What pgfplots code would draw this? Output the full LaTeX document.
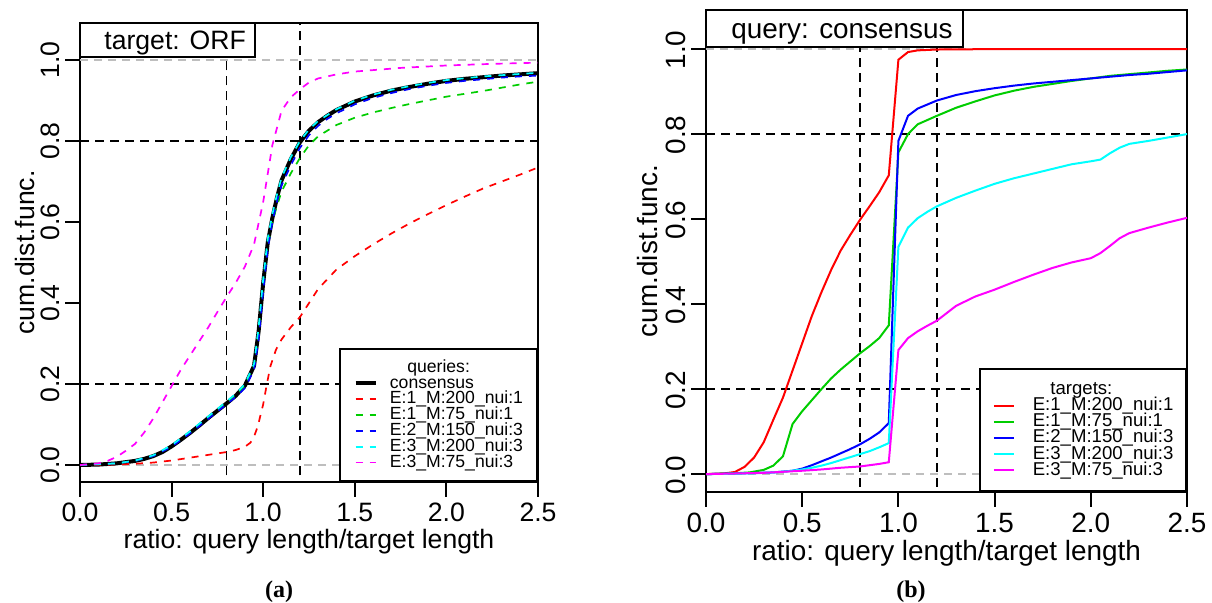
\documentclass[border=0pt]{standalone}
\usepackage{fontspec}
\setmainfont{Liberation Sans}
\newfontfamily\capfont{Liberation Serif}
\usepackage{pgfplots}
\pgfplotsset{compat=1.18}
\definecolor{rred}{RGB}{255,0,0}
\definecolor{rgreen}{RGB}{0,205,0}
\definecolor{rblue}{RGB}{0,0,255}
\definecolor{rcyan}{RGB}{0,255,255}
\definecolor{rmagenta}{RGB}{255,0,255}
\definecolor{rgrey}{RGB}{190,190,190}
\pgfplotsset{
  cdfaxis/.style={
    scale only axis, anchor=south west,
    xmin=0, xmax=2.5, ymin=-0.042, ymax=1.092,
    xtick={0,0.5,1,1.5,2,2.5}, ytick={0,0.2,0.4,0.6,0.8,1},
    tick align=outside, xtick pos=bottom, ytick pos=left,
    major tick length=7.5pt, line width=1pt,
    every tick/.style={black, line width=1pt},
    /pgf/number format/.cd, fixed, fixed zerofill, precision=1, assume math mode=true,
    /pgfplots/.cd,
    xticklabel style={anchor=center, yshift=-7.5pt},
    yticklabel style={xshift=-7.5pt, rotate=90, anchor=center},
    xlabel={ratio: query length/target length},
    ylabel={cum.dist.func.},
    legend cell align=left,
    legend image code/.code={\draw[##1] (0pt,0pt) -- (10pt,0pt);},
  },
  refline/.style={black, line width=0.9pt, dash pattern=on 4.5pt off 3pt, forget plot},
  greyline/.style={rgrey, line width=0.8pt, dash pattern=on 4pt off 3pt, forget plot},
  dcurve/.style={line width=0.85pt, dash pattern=on 3.5pt off 3.5pt},
  scurve/.style={line width=1pt},
}
\begin{document}
\begin{tikzpicture}
\useasboundingbox (0,0) rectangle (606pt,301.5pt);
% ---------------- panel (a) ----------------
\begin{axis}[cdfaxis, name=A, at={(40pt,60.5pt)}, width=229pt, height=229.5pt,
  tick label style={font=\fontsize{13.3}{16}\selectfont},
  label style={font=\fontsize{13.3}{16}\selectfont},
  xlabel style={at={(axis description cs:0.5,0)}, anchor=base, yshift=-33.5pt},
  ylabel style={at={(axis description cs:-0.12,0.5)}, anchor=center},
  legend style={at={(1,0)}, anchor=south east, draw=black, line width=1pt, fill=white,
    inner xsep=7pt, inner ysep=5.3pt, row sep=0pt, column sep=6.2pt,
    font=\fontsize{8.8}{9}\selectfont,
    nodes={inner sep=0pt, text height=6.3pt, text depth=1.6pt}},
]
\addplot[greyline] coordinates {(0,0) (2.5,0)};
\addplot[greyline] coordinates {(0,1) (2.5,1)};
\addplot[refline] coordinates {(0,0.2) (2.5,0.2)};
\addplot[refline] coordinates {(0,0.8) (2.5,0.8)};
\addplot[refline] coordinates {(0.8,-0.1) (0.8,1.2)};
\addplot[refline] coordinates {(1.2,-0.1) (1.2,1.2)};
\addlegendimage{empty legend}
\addlegendentry{\hspace{8.7pt}queries:}
\addplot[black, line width=2pt] coordinates {
(0,0) (0.1,0.001) (0.2,0.004) (0.3,0.010) (0.35,0.015) (0.4,0.022) (0.45,0.032)
(0.5,0.046) (0.55,0.062) (0.6,0.079) (0.65,0.097) (0.7,0.116) (0.75,0.134)
(0.8,0.152) (0.85,0.171) (0.9,0.196) (0.95,0.245) (0.975,0.33) (1.0,0.45)
(1.025,0.55) (1.05,0.61) (1.075,0.66) (1.1,0.703) (1.15,0.755) (1.2,0.797)
(1.25,0.826) (1.3,0.847) (1.35,0.863) (1.4,0.877) (1.5,0.898) (1.6,0.913)
(1.7,0.925) (1.8,0.934) (1.9,0.942) (2.0,0.949) (2.1,0.954) (2.2,0.958)
(2.3,0.962) (2.4,0.965) (2.5,0.968)};
\addlegendentry{consensus}
\addplot[rred, dcurve] coordinates {
(0,0) (0.2,0.001) (0.3,0.003) (0.4,0.006) (0.5,0.011) (0.6,0.018) (0.7,0.025)
(0.8,0.032) (0.85,0.037) (0.9,0.045) (0.93,0.055) (0.95,0.07) (0.97,0.095)
(1.0,0.15) (1.02,0.2) (1.04,0.245) (1.07,0.285) (1.1,0.31) (1.15,0.34)
(1.2,0.365) (1.3,0.435) (1.4,0.483) (1.5,0.516) (1.6,0.545) (1.7,0.572)
(1.8,0.597) (1.9,0.62) (2.0,0.642) (2.1,0.663) (2.2,0.683) (2.3,0.70)
(2.4,0.717) (2.5,0.735)};
\addlegendentry{E:1\_M:200\_nui:1}
\addplot[rgreen, dcurve] coordinates {
(0,0) (0.2,0.004) (0.3,0.010) (0.4,0.022) (0.5,0.046) (0.6,0.079) (0.7,0.116)
(0.8,0.152) (0.85,0.171) (0.9,0.196) (0.95,0.243) (0.975,0.325) (1.0,0.44)
(1.025,0.54) (1.05,0.6) (1.075,0.64) (1.1,0.675) (1.15,0.72) (1.2,0.758)
(1.25,0.79) (1.3,0.812) (1.4,0.84) (1.5,0.858) (1.6,0.871) (1.7,0.882)
(1.8,0.892) (1.9,0.901) (2.0,0.91) (2.1,0.917) (2.2,0.924) (2.3,0.932)
(2.4,0.94) (2.5,0.947)};
\addlegendentry{E:1\_M:75\_nui:1}
\addplot[rblue, dcurve] coordinates {
(0,0) (0.2,0.004) (0.3,0.01) (0.4,0.022) (0.5,0.045) (0.6,0.078) (0.7,0.114)
(0.8,0.15) (0.85,0.168) (0.9,0.19) (0.95,0.235) (0.975,0.31) (1.0,0.43)
(1.025,0.535) (1.05,0.6) (1.075,0.65) (1.1,0.69) (1.15,0.74) (1.2,0.783)
(1.25,0.815) (1.3,0.838) (1.35,0.855) (1.4,0.869) (1.5,0.891) (1.6,0.907)
(1.7,0.919) (1.8,0.929) (1.9,0.937) (2.0,0.944) (2.1,0.949) (2.2,0.953)
(2.3,0.957) (2.4,0.96) (2.5,0.962)};
\addlegendentry{E:2\_M:150\_nui:3}
\addplot[rcyan, dcurve] coordinates {
(0,0) (0.2,0.004) (0.3,0.011) (0.4,0.024) (0.5,0.049) (0.6,0.083) (0.7,0.12)
(0.8,0.157) (0.85,0.176) (0.9,0.2) (0.95,0.25) (0.975,0.34) (1.0,0.46)
(1.025,0.56) (1.05,0.62) (1.075,0.668) (1.1,0.71) (1.15,0.76) (1.2,0.8)
(1.25,0.829) (1.3,0.85) (1.4,0.879) (1.5,0.9) (1.6,0.915) (1.7,0.927)
(1.8,0.936) (1.9,0.944) (2.0,0.951) (2.2,0.96) (2.4,0.966) (2.5,0.969)};
\addlegendentry{E:3\_M:200\_nui:3}
\addplot[rmagenta, dcurve] coordinates {
(0,0) (0.1,0.004) (0.15,0.01) (0.2,0.02) (0.25,0.035) (0.3,0.052) (0.35,0.08)
(0.4,0.115) (0.45,0.155) (0.5,0.195) (0.55,0.235) (0.6,0.27) (0.65,0.305)
(0.7,0.34) (0.75,0.378) (0.8,0.415) (0.85,0.45) (0.9,0.49) (0.95,0.545)
(1.0,0.65) (1.05,0.79) (1.1,0.875) (1.15,0.908) (1.2,0.928) (1.25,0.945)
(1.3,0.955) (1.4,0.965) (1.5,0.972) (1.75,0.981) (2.0,0.987) (2.25,0.991)
(2.5,0.994)};
\addlegendentry{E:3\_M:75\_nui:3}
\end{axis}
\draw[line width=1pt, fill=white] (A.north west) rectangle ++(87.5pt,-17.15pt);
\node[anchor=base west, inner sep=0pt, font=\fontsize{13.3}{16}\selectfont]
  at ([shift={(12pt,-13.4pt)}]A.north west) {target: ORF};
\node[anchor=base, inner sep=0pt, font=\capfont\bfseries\fontsize{12}{12}\selectfont]
  at (139.5pt,2.75pt) {(a)};
% ---------------- panel (b) ----------------
\begin{axis}[cdfaxis, name=B, at={(353pt,55.5pt)}, width=240.5pt, height=241pt,
  tick label style={font=\fontsize{13.95}{16}\selectfont},
  label style={font=\fontsize{13.95}{16}\selectfont},
  xticklabel style={yshift=-0.5pt},
  yticklabel style={xshift=-0.5pt},
  xlabel style={at={(axis description cs:0.5,0)}, anchor=base, yshift=-34.3pt},
  ylabel style={at={(axis description cs:-0.1206,0.5)}, anchor=center},
  legend style={at={(1,0)}, anchor=south east, draw=black, line width=1pt, fill=white,
    inner xsep=6.3pt, inner ysep=6.2pt, row sep=0pt, column sep=8.9pt,
    font=\fontsize{9.3}{9}\selectfont,
    nodes={inner sep=0pt, text height=6.5pt, text depth=1.6pt}},
]
\addplot[greyline] coordinates {(0,0) (2.5,0)};
\addplot[greyline] coordinates {(0,1) (2.5,1)};
\addplot[refline] coordinates {(0,0.2) (2.5,0.2)};
\addplot[refline] coordinates {(0,0.8) (2.5,0.8)};
\addplot[refline] coordinates {(0.8,-0.1) (0.8,1.2)};
\addplot[refline] coordinates {(1.2,-0.1) (1.2,1.2)};
\addlegendimage{empty legend}
\addlegendentry{\hspace{8.8pt}targets:}
\addplot[rred, scurve] coordinates {
(0,0) (0.1,0.002) (0.15,0.005) (0.2,0.017) (0.25,0.039) (0.3,0.075) (0.35,0.128)
(0.4,0.180) (0.45,0.244) (0.5,0.308) (0.55,0.372) (0.6,0.428) (0.65,0.48)
(0.7,0.526) (0.75,0.563) (0.8,0.598) (0.85,0.63) (0.9,0.663) (0.95,0.703)
(1.0,0.975) (1.05,0.993) (1.1,0.997) (1.2,0.999) (1.5,1.0) (2.5,1.0)};
\addlegendentry{E:1\_M:200\_nui:1}
\addplot[rgreen, scurve] coordinates {
(0,0) (0.15,0.002) (0.225,0.004) (0.3,0.010) (0.35,0.020) (0.4,0.042)
(0.45,0.118) (0.5,0.148) (0.55,0.174) (0.6,0.2) (0.65,0.225) (0.7,0.246)
(0.75,0.265) (0.8,0.284) (0.85,0.301) (0.9,0.32) (0.95,0.35) (1.0,0.757)
(1.05,0.80) (1.1,0.823) (1.2,0.843) (1.3,0.862) (1.4,0.877) (1.5,0.891)
(1.6,0.902) (1.7,0.911) (1.8,0.918) (1.9,0.925) (2.0,0.931) (2.1,0.937)
(2.2,0.941) (2.3,0.945) (2.4,0.949) (2.5,0.952)};
\addlegendentry{E:1\_M:75\_nui:1}
\addplot[rblue, scurve] coordinates {
(0,0) (0.2,0.002) (0.35,0.004) (0.45,0.008) (0.5,0.013) (0.55,0.021) (0.6,0.03)
(0.65,0.039) (0.7,0.049) (0.75,0.059) (0.8,0.07) (0.85,0.083) (0.9,0.098)
(0.95,0.12) (1.0,0.784) (1.05,0.843) (1.1,0.86) (1.2,0.879) (1.3,0.892)
(1.4,0.901) (1.5,0.908) (1.6,0.914) (1.7,0.919) (1.8,0.923) (1.9,0.927)
(2.0,0.931) (2.1,0.935) (2.2,0.939) (2.3,0.942) (2.4,0.946) (2.5,0.95)};
\addlegendentry{E:2\_M:150\_nui:3}
\addplot[rcyan, scurve] coordinates {
(0,0) (0.25,0.002) (0.35,0.004) (0.43,0.007) (0.5,0.011) (0.55,0.015) (0.6,0.02)
(0.65,0.026) (0.7,0.033) (0.75,0.04) (0.8,0.047) (0.85,0.054) (0.9,0.063)
(0.95,0.073) (1.0,0.535) (1.05,0.58) (1.1,0.602) (1.15,0.617) (1.2,0.63)
(1.3,0.65) (1.4,0.667) (1.5,0.683) (1.6,0.696) (1.7,0.707) (1.8,0.718)
(1.9,0.729) (2.0,0.736) (2.05,0.74) (2.1,0.755) (2.15,0.768) (2.2,0.777)
(2.3,0.784) (2.4,0.792) (2.5,0.80)};
\addlegendentry{E:3\_M:200\_nui:3}
\addplot[rmagenta, scurve] coordinates {
(0,0) (0.3,0.003) (0.5,0.008) (0.6,0.011) (0.7,0.015) (0.8,0.018) (0.9,0.024)
(0.95,0.028) (1.0,0.292) (1.05,0.32) (1.1,0.336) (1.15,0.349) (1.2,0.361)
(1.3,0.396) (1.4,0.418) (1.5,0.434) (1.6,0.452) (1.7,0.469) (1.8,0.485)
(1.9,0.498) (2.0,0.508) (2.05,0.52) (2.1,0.537) (2.15,0.555) (2.2,0.567)
(2.3,0.58) (2.4,0.592) (2.5,0.603)};
\addlegendentry{E:3\_M:75\_nui:3}
\end{axis}
\draw[line width=1pt, fill=white] (B.north west) rectangle ++(128.5pt,-18.3pt);
\node[anchor=base west, inner sep=0pt, font=\fontsize{13.95}{16}\selectfont]
  at ([shift={(12.5pt,-14.2pt)}]B.north west) {query: consensus};
\node[anchor=base, inner sep=0pt, font=\capfont\bfseries\fontsize{12}{12}\selectfont]
  at (455.5pt,2.75pt) {(b)};
\end{tikzpicture}
\end{document}
